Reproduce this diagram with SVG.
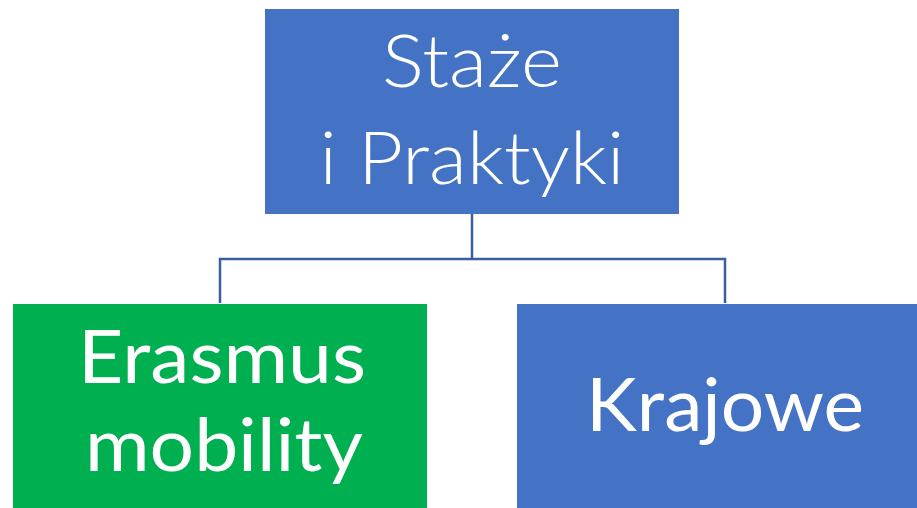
<svg xmlns="http://www.w3.org/2000/svg" width="917" height="508" viewBox="0 0 917 508">
<style>
.blue{fill:#4472C4}
.green{fill:#00B050}
.lbl{fill:#FFFFFF;font-family:Lato,"Open Sans","Liberation Sans",sans-serif;font-size:73px;text-anchor:middle}
.light{font-weight:300}
.conn{fill:none;stroke:#3B5E9E;stroke-width:2.5}
</style>
<rect width="917" height="508" fill="#FFFFFF"/>
<g id="connectors">
<path class="conn" d="M472 214 V259 M220 303 V259 H725 V303"/>
</g>
<g id="node-staze">
<rect class="blue" x="265" y="9" width="414" height="205"/>
<text class="lbl light"><tspan x="472" y="87" textLength="180" lengthAdjust="spacingAndGlyphs">Staże</tspan><tspan x="472" y="184" textLength="305" lengthAdjust="spacingAndGlyphs">i Praktyki</tspan></text>
</g>
<g id="node-erasmus">
<rect class="green" x="13" y="304" width="414" height="204"/>
<text class="lbl"><tspan x="222" y="383" textLength="288" lengthAdjust="spacingAndGlyphs">Erasmus</tspan><tspan x="224" y="471" textLength="278" lengthAdjust="spacingAndGlyphs">mobility</tspan></text>
</g>
<g id="node-krajowe">
<rect class="blue" x="517" y="304" width="400" height="204"/>
<text class="lbl" x="725" y="431" textLength="278" lengthAdjust="spacingAndGlyphs">Krajowe</text>
</g>
</svg>
